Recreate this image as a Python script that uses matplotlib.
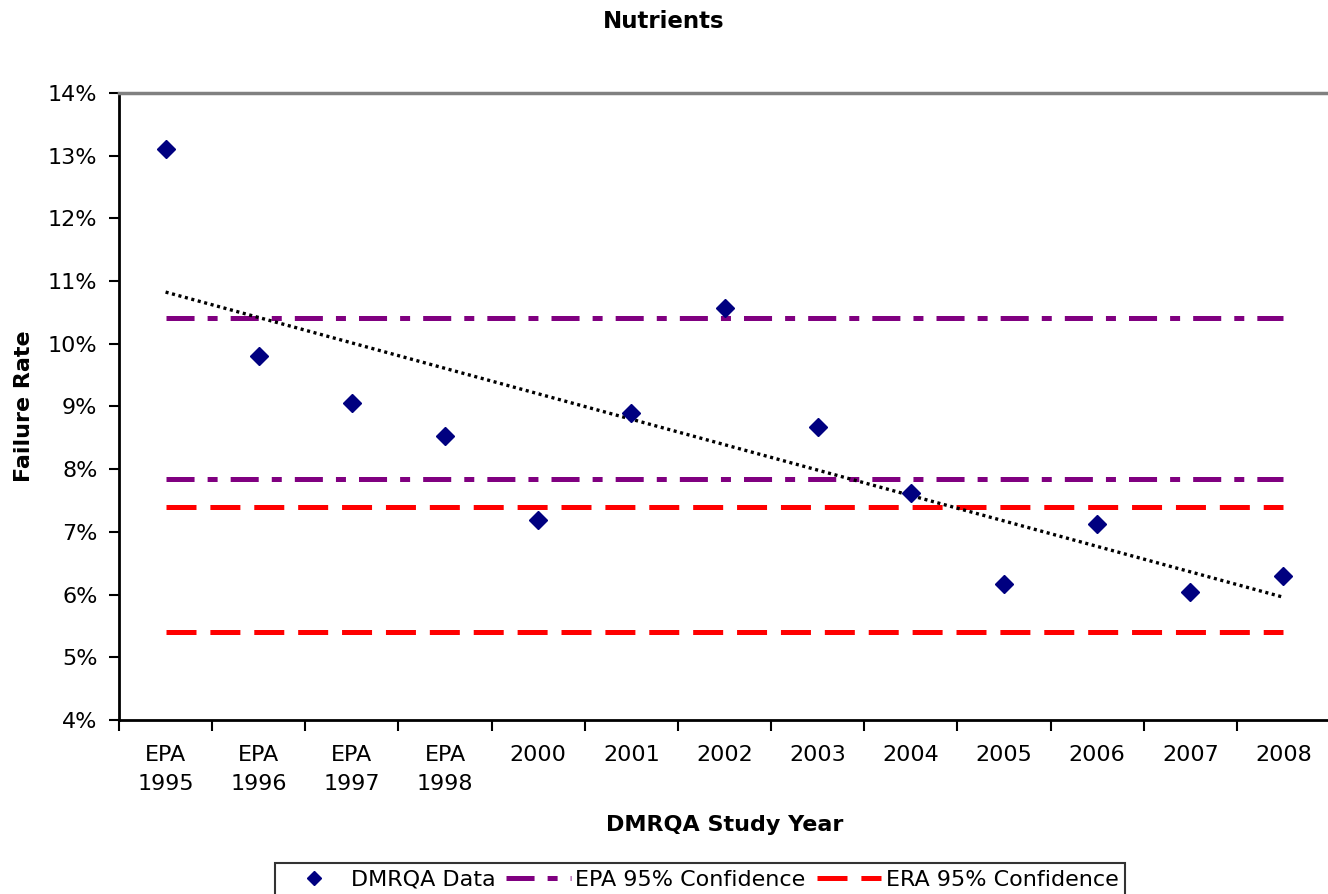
import matplotlib
matplotlib.use('Agg')
import matplotlib.pyplot as plt
import numpy as np
from matplotlib.ticker import FuncFormatter, FixedLocator

years = ['EPA\n1995', 'EPA\n1996', 'EPA\n1997', 'EPA\n1998', '2000', '2001', '2002',
         '2003', '2004', '2005', '2006', '2007', '2008']
failure_rate = [13.10, 9.81, 9.06, 8.53, 7.19, 8.90, 10.57, 8.67, 7.62, 6.17, 7.13, 6.04, 6.30]
epa_conf = [10.41, 7.85]
era_conf = [7.40, 5.40]

plt.rcParams['font.family'] = 'DejaVu Sans'
plt.rcParams['lines.scale_dashes'] = False

fig = plt.figure(figsize=(13.28, 8.94), dpi=100)
ax = fig.add_axes([119/1328, 1-720/894, 1211/1328, 627/894])

x = np.arange(len(years))

# trend line (linear fit)
k, b = np.polyfit(x, failure_rate, 1)
ax.plot(x, k*x + b, color='black', lw=2.4, linestyle=(0, (2.2, 2.6)), zorder=4)

for i, v in enumerate(epa_conf):
    ax.plot(x, [v]*len(x), color='#800080', lw=3.6, linestyle=(0, (20.2, 9.4, 7.2, 9.4)),
            label='EPA 95% Confidence' if i == 0 else None, zorder=2)
for i, v in enumerate(era_conf):
    ax.plot(x, [v]*len(x), color='#ff0000', lw=3.6, linestyle=(0, (21.6, 10)),
            label='ERA 95% Confidence' if i == 0 else None, zorder=2)

ax.plot(x, failure_rate, linestyle='none', marker='D', ms=9, color='#000080',
        label='DMRQA Data', zorder=5)

ax.set_xlim(-0.5, len(years) - 0.5)
ax.set_ylim(4, 14)
ax.set_yticks(range(4, 15))
ax.yaxis.set_major_formatter(FuncFormatter(lambda v, p: '%d%%' % v))

ax.set_xticks(x)
ax.set_xticklabels(years, fontsize=16, linespacing=1.55)
ax.xaxis.set_minor_locator(FixedLocator(np.arange(-0.5, len(years), 1)))
ax.tick_params(axis='x', which='major', length=0, pad=18)
ax.tick_params(axis='x', which='minor', length=8, width=1.5, direction='out')
ax.tick_params(axis='y', length=7, width=1.5, direction='out', labelsize=16, pad=8.5)

ax.spines['right'].set_visible(False)
ax.spines['top'].set_color('#808080')
ax.spines['top'].set_linewidth(2.5)
ax.spines['left'].set_linewidth(2)
ax.spines['bottom'].set_linewidth(2)

ax.set_xlabel('DMRQA Study Year', fontsize=16, fontweight='bold', labelpad=15)
ax.set_ylabel('Failure Rate', fontsize=16, fontweight='bold', labelpad=10)
fig.text(0.5, 1-22/894, 'Nutrients', ha='center', va='center', fontsize=16.5, fontweight='bold')

h, l = ax.get_legend_handles_labels()
order = [2, 0, 1]
leg = fig.legend([h[i] for i in order], [l[i] for i in order], ncol=3,
                 loc='upper center', bbox_to_anchor=(700/1328, 1-863/894),
                 borderaxespad=0, fontsize=16, frameon=True, fancybox=False,
                 edgecolor='black', handlelength=2.9, handletextpad=0.2,
                 columnspacing=0.5, borderpad=0.3, markerscale=0.8)
leg.get_frame().set_linewidth(1.5)

fig.savefig('out.png', dpi=100)
